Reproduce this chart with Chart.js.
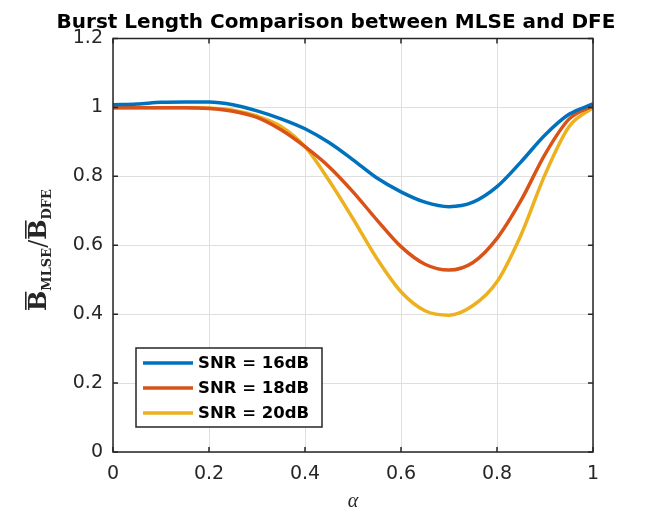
<!DOCTYPE html>
<html>
<head>
<meta charset="utf-8">
<script src="https://cdn.jsdelivr.net/npm/chart.js@4.4.1/dist/chart.umd.min.js"></script>
<style>
html,body{margin:0;padding:0;background:#fff;}
#c{display:block;}
</style>
</head>
<body>
<canvas id="c" width="654" height="514"></canvas>
<script>
const alpha = [0, 0.05, 0.1, 0.15, 0.2, 0.25, 0.3, 0.35, 0.4, 0.45, 0.5, 0.55, 0.6, 0.65, 0.7, 0.75, 0.8, 0.85, 0.9, 0.95, 1.0];
const snr16 = [1.008, 1.010, 1.015, 1.016, 1.016, 1.008, 0.990, 0.967, 0.938, 0.898, 0.848, 0.795, 0.755, 0.725, 0.712, 0.725, 0.770, 0.842, 0.920, 0.980, 1.010];
const snr18 = [0.999, 0.999, 0.999, 0.999, 0.997, 0.989, 0.971, 0.935, 0.886, 0.828, 0.755, 0.673, 0.596, 0.545, 0.528, 0.550, 0.620, 0.730, 0.864, 0.966, 1.005];
const snr20 = [0.999, 0.999, 0.999, 0.999, 0.998, 0.992, 0.975, 0.945, 0.886, 0.788, 0.677, 0.561, 0.465, 0.410, 0.397, 0.425, 0.494, 0.630, 0.805, 0.944, 1.000];
const seriesLabels = ['SNR = 16dB', 'SNR = 18dB', 'SNR = 20dB'];
const seriesColors = ['#0072BD', '#D95319', '#EDB120'];
const xTicks = [0, 0.2, 0.4, 0.6, 0.8, 1];
const yTicks = [0, 0.2, 0.4, 0.6, 0.8, 1, 1.2];
const titleText = 'Burst Length Comparison between MLSE and DFE';

const allSeries = [snr16, snr18, snr20];
const datasets = allSeries.map((s, i) => ({
  label: seriesLabels[i],
  data: alpha.map((a, j) => ({x: a, y: s[j]})),
  borderColor: seriesColors[i],
  backgroundColor: seriesColors[i],
  borderWidth: 3.5,
  pointRadius: 0,
  cubicInterpolationMode: 'monotone',
  fill: false
}));

const fmt = v => {
  const r = Math.round(v * 10) / 10;
  return Number.isInteger(r) ? String(r) : r.toFixed(1);
};

const decor = {
  id: 'decor',
  afterDraw(chart) {
    const ctx = chart.ctx, a = chart.chartArea;
    const xs = chart.scales.x, ys = chart.scales.y;
    ctx.save();
    ctx.strokeStyle = '#262626';
    ctx.lineWidth = 1.5;
    ctx.beginPath();
    xTicks.forEach(v => {
      const p = xs.getPixelForValue(v);
      ctx.moveTo(p, a.bottom); ctx.lineTo(p, a.bottom - 5);
      ctx.moveTo(p, a.top); ctx.lineTo(p, a.top + 5);
    });
    yTicks.forEach(v => {
      const p = ys.getPixelForValue(v);
      ctx.moveTo(a.left, p); ctx.lineTo(a.left + 5, p);
      ctx.moveTo(a.right, p); ctx.lineTo(a.right - 5, p);
    });
    ctx.stroke();
    ctx.strokeRect(a.left, a.top, a.right - a.left, a.bottom - a.top);

    // title
    ctx.fillStyle = '#000';
    ctx.font = 'bold 20px "DejaVu Sans"';
    ctx.textAlign = 'center';
    ctx.textBaseline = 'alphabetic';
    ctx.fillText(titleText, 336, 28);

    // x label
    ctx.fillStyle = '#262626';
    ctx.font = 'italic 20px "Liberation Serif"';
    ctx.fillText('α', (a.left + a.right) / 2, 507);

    // y label (rotated)
    ctx.save();
    ctx.translate(46, 250);
    ctx.rotate(-Math.PI / 2);
    ctx.textAlign = 'left';
    const big = 'bold 24px "DejaVu Serif"';
    const sub = 'bold 13px "DejaVu Serif"';
    const slashF = '24px "DejaVu Serif"';
    const parts = [
      {t: 'B', f: big, dy: 0, bar: true},
      {t: 'MLSE', f: sub, dy: 5},
      {t: '/', f: slashF, dy: 0},
      {t: 'B', f: big, dy: 0, bar: true},
      {t: 'DFE', f: sub, dy: 5}
    ];
    let total = 0;
    parts.forEach(p => { ctx.font = p.f; p.w = ctx.measureText(p.t).width; total += p.w; });
    let x0 = -total / 2;
    parts.forEach(p => {
      ctx.font = p.f;
      ctx.fillText(p.t, x0, p.dy);
      if (p.bar) {
        ctx.fillRect(x0 + 1, -21, p.w - 2, 1.6);
      }
      x0 += p.w;
    });
    ctx.restore();

    // legend
    const lx = 136, ly = 348, lw = 186, lh = 79;
    ctx.fillStyle = '#fff';
    ctx.fillRect(lx, ly, lw, lh);
    ctx.strokeStyle = '#262626';
    ctx.lineWidth = 1.5;
    ctx.strokeRect(lx, ly, lw, lh);
    ctx.font = 'bold 16.5px "DejaVu Sans"';
    ctx.textAlign = 'left';
    ctx.textBaseline = 'middle';
    chart.data.datasets.forEach((d, i) => {
      const yy = 363 + i * 25;
      ctx.strokeStyle = d.borderColor;
      ctx.lineWidth = 3.5;
      ctx.beginPath();
      ctx.moveTo(143, yy); ctx.lineTo(193, yy);
      ctx.stroke();
      ctx.fillStyle = '#000';
      ctx.fillText(d.label, 198, yy + 1);
    });
    ctx.restore();
  }
};

new Chart(document.getElementById('c'), {
  type: 'line',
  data: {datasets},
  options: {
    responsive: false,
    animation: false,
    layout: {padding: {top: 38.5, right: 61, left: 0, bottom: 0}},
    plugins: {legend: {display: false}, title: {display: false}, tooltip: {enabled: false}},
    scales: {
      x: {
        type: 'linear', min: 0, max: 1,
        afterFit: s => { s.height = 62; },
        afterBuildTicks: s => { s.ticks = xTicks.map(v => ({value: v})); },
        grid: {color: '#dfdfdf', lineWidth: 1, drawTicks: false},
        border: {display: false},
        ticks: {padding: 11, color: '#262626', font: {family: 'DejaVu Sans', size: 19}, callback: v => fmt(v), maxRotation: 0}
      },
      y: {
        type: 'linear', min: 0, max: 1.2,
        afterFit: s => { s.width = 113; },
        afterBuildTicks: s => { s.ticks = yTicks.map(v => ({value: v})); },
        grid: {color: '#dfdfdf', lineWidth: 1, drawTicks: false},
        border: {display: false},
        ticks: {padding: 10, color: '#262626', font: {family: 'DejaVu Sans', size: 19}, callback: v => fmt(v)}
      }
    }
  },
  plugins: [decor]
});
</script>
</body>
</html>
